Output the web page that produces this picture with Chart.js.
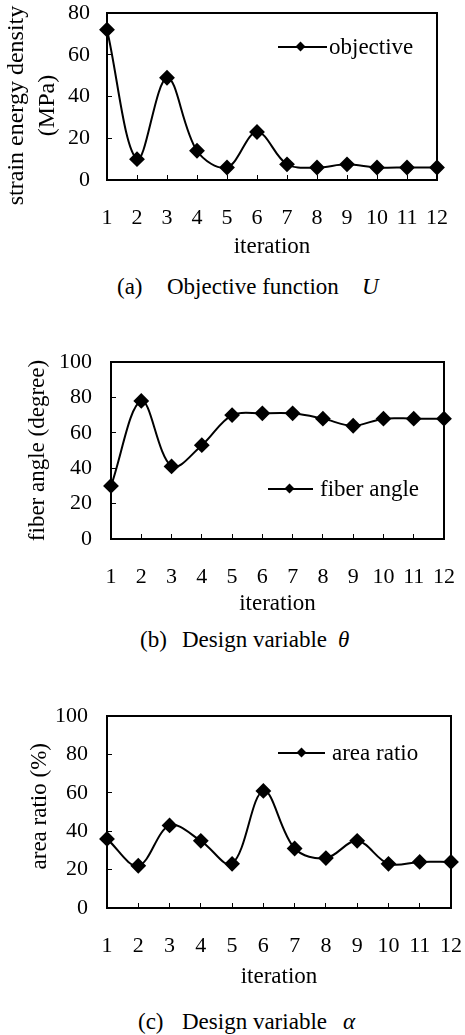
<!DOCTYPE html>
<html>
<head>
<meta charset="utf-8">
<script src="https://cdn.jsdelivr.net/npm/chart.js@4.4.0/dist/chart.umd.min.js"></script>
<style>
body{margin:0;background:#fff;width:465px;height:1035px;position:relative;overflow:hidden;font-family:"Liberation Serif","Times New Roman",serif;color:#000;}
.box{position:absolute;left:0;width:465px;}
.cap{position:absolute;font-size:23px;line-height:23px;white-space:pre;}
.leg{position:absolute;font-size:23px;line-height:23px;white-space:pre;}
.legline{position:absolute;height:2px;background:#000;}
.legdot{position:absolute;width:7px;height:7px;background:#000;transform:rotate(45deg);}
i{font-style:italic;}
</style>
</head>
<body>
<div class="box" style="top:0px;height:262px"><canvas id="chartA"></canvas></div>
<div class="box" style="top:340px;height:280px"><canvas id="chartB"></canvas></div>
<div class="box" style="top:695px;height:300px"><canvas id="chartC"></canvas></div>

<div class="legline" style="left:278px;top:46px;width:49px"></div>
<div class="legdot" style="left:297px;top:43px"></div>
<div class="leg" style="left:329px;top:35px">objective</div>

<div class="legline" style="left:268px;top:488px;width:45px"></div>
<div class="legdot" style="left:286px;top:485px"></div>
<div class="leg" style="left:320px;top:477px">fiber angle</div>

<div class="legline" style="left:278px;top:752px;width:47px"></div>
<div class="legdot" style="left:298px;top:749px"></div>
<div class="leg" style="left:332px;top:741px">area ratio</div>

<div class="cap" style="left:117px;top:275px">(a)</div>
<div class="cap" style="left:167px;top:275px">Objective function</div>
<div class="cap" style="left:362px;top:275px"><i>U</i></div>

<div class="cap" style="left:140px;top:628px">(b)</div>
<div class="cap" style="left:182px;top:628px">Design variable</div>
<div class="cap" style="left:338px;top:628px"><i>θ</i></div>

<div class="cap" style="left:138px;top:1010px">(c)</div>
<div class="cap" style="left:182px;top:1010px">Design variable</div>
<div class="cap" style="left:343px;top:1010px"><i>α</i></div>

<script>
var iterations = ['1','2','3','4','5','6','7','8','9','10','11','12'];
var objective = [72, 10, 49, 14, 6, 23, 7.5, 6, 7.5, 6, 6, 6];
var fiberAngle = [30, 78, 41, 53, 70, 71, 71, 68, 64, 68, 68, 68];
var areaRatio = [36, 22, 43, 35, 23, 61, 31, 26, 35, 23, 24, 24];

var serif = '"Liberation Serif", "Times New Roman", serif';

// frame round the plot area
var framePlugin = {
	id: 'frame',
	afterDraw: function (chart) {
		var a = chart.chartArea, ctx = chart.ctx;
		ctx.save();
		ctx.strokeStyle = '#000';
		ctx.lineWidth = 2;
		ctx.strokeRect(a.left, a.top, a.right - a.left, a.bottom - a.top);
		ctx.restore();
	}
};

function makeChart(id, c) {
	var canvas = document.getElementById(id);
	return new Chart(canvas.getContext('2d'), {
		type: 'line',
		data: {
			labels: iterations,
			datasets: [{
				label: c.label,
				data: c.data,
				borderColor: '#000',
				backgroundColor: '#000',
				borderWidth: 2,
				tension: 0.35,
				pointStyle: 'rectRot',
				pointRadius: 6.5,
				pointBackgroundColor: '#000',
				pointBorderColor: '#000',
				clip: false
			}]
		},
		options: {
			responsive: true,
			maintainAspectRatio: false,
			animation: false,
			layout: {padding: {top: c.plotTop - c.top, right: 465 - c.plotRight, left: 0, bottom: 0}},
			plugins: {legend: {display: false}, tooltip: {enabled: false}},
			scales: {
				x: {
					offset: false,
					border: {display: false},
					grid: {drawOnChartArea: false, drawTicks: true, tickLength: -5, color: '#000', lineWidth: 1},
					ticks: {color: '#000', font: {family: serif, size: 22}, padding: 30, maxRotation: 0, autoSkip: false},
					title: {display: true, text: 'iteration', color: '#000', font: {family: serif, size: 23, lineHeight: 1.2},
						padding: {top: 0, bottom: c.height - 13.8 - (c.xTitleY - c.top)}},
					afterFit: function (s) {
						s.height = c.top + c.height - c.plotBottom;
						s.paddingLeft = 0; s.paddingRight = 0;
					}
				},
				y: {
					min: 0, max: c.yMax,
					border: {display: false},
					grid: {drawOnChartArea: false, drawTicks: true, tickLength: -5, color: '#000', lineWidth: 1},
					ticks: {stepSize: 20, color: '#000', font: {family: serif, size: 22}, padding: c.yPad},
					title: {display: true, text: c.yTitle, color: '#000', font: {family: serif, size: c.yFont, lineHeight: c.yLine},
						padding: {top: c.yTitlePad, bottom: 0}},
					afterFit: function (s) {
						s.width = c.plotLeft;
						s.paddingTop = 0; s.paddingBottom = 0;
					}
				}
			}
		},
		plugins: [framePlugin]
	});
}

makeChart('chartA', {
	label: 'objective', data: objective, yMax: 80,
	top: 0, height: 262, plotTop: 13, plotBottom: 180, plotLeft: 107, plotRight: 437,
	xTitleY: 247, yTitle: ['strain energy density   ', '(MPa)   '], yFont: 24, yLine: 1.29, yTitlePad: 1.5, yPad: 22
});
makeChart('chartB', {
	label: 'fiber angle', data: fiberAngle, yMax: 100,
	top: 340, height: 280, plotTop: 362, plotBottom: 539, plotLeft: 111, plotRight: 444,
	xTitleY: 604, yTitle: 'fiber angle (degree)', yFont: 23, yLine: 1.2, yTitlePad: 24.2, yPad: 24
});
makeChart('chartC', {
	label: 'area ratio', data: areaRatio, yMax: 100,
	top: 695, height: 300, plotTop: 716, plotBottom: 908, plotLeft: 107, plotRight: 451,
	xTitleY: 977, yTitle: '  area ratio (%)', yFont: 23, yLine: 1.2, yTitlePad: 26.2, yPad: 24
});
</script>
</body>
</html>
